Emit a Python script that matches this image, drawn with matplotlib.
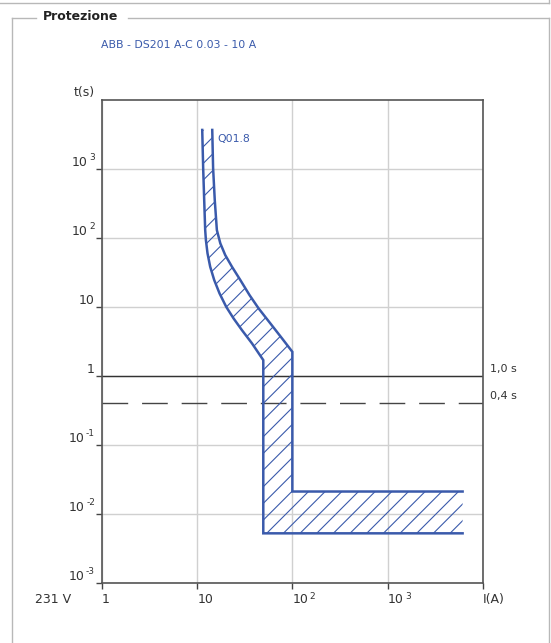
import numpy as np
import matplotlib
matplotlib.use("Agg")
import matplotlib.pyplot as plt
from matplotlib.lines import Line2D
from matplotlib.patches import Polygon

W, H = 551, 643
BLUE = "#3a5aab"

# curve data (I in A, t in s)
i_min = [11.3, 11.56, 11.85, 12.14, 12.35, 12.84, 13.7, 15.1, 17.17, 20.2, 24.1, 29.5, 37.7, 49.5]
t_min = [3680, 1033, 355, 130, 93.2, 59.8, 38.2, 24.5, 15.7, 10.0, 6.81, 4.61, 2.95, 1.69]
i_max = [14.4, 14.7, 15.3, 16.1, 17.5, 19.7, 23.2, 28.4, 35.5, 44.2, 58.7, 77.9, 100]
t_max = [3680, 1033, 355, 130, 83.5, 56.5, 38.2, 24.5, 14.8, 9.5, 5.76, 3.49, 2.23]
t_inst_max = 0.021
t_inst_min = 0.0052
i_end = 6150

x_ticks = [1, 10, 100, 1000, 10000]
x_labels = [("1", ""), ("10", ""), ("10", "2"), ("10", "3"), ("I(A)", "")]
y_ticks = [1e-3, 1e-2, 1e-1, 1, 10, 100, 1000]
y_labels = [("10", "-3"), ("10", "-2"), ("10", "-1"), ("1", ""), ("10", ""), ("10", "2"), ("10", "3")]
ref_lines = [(1.0, "1,0 s"), (0.4, "0,4 s")]

plt.rcParams['font.family'] = ['DejaVu Sans']
plt.rcParams['hatch.linewidth'] = 0.8

fig = plt.figure(figsize=(W / 100, H / 100), dpi=100)


def fx(x):
    return x / W


def fy(y):
    return 1 - y / H


ax = fig.add_axes([fx(102), fy(582.7), fx(482.7) - fx(102), fy(100) - fy(582.7)])
ax.set_xscale("log")
ax.set_yscale("log")
ax.set_xlim(1, 10000)
ax.set_ylim(1e-3, 1e4)

ax.set_xticks(x_ticks)
ax.set_yticks(y_ticks)
ax.minorticks_off()
ax.tick_params(length=4, width=1, color="#444", labelbottom=False, labelleft=False)
ax.grid(True, color="#d0d0d0", lw=1)
ax.set_axisbelow(True)
for s in ax.spines.values():
    s.set_color("#555")
    s.set_linewidth(1.2)

# band
left_x = list(i_min) + [i_min[-1], i_end]
left_y = list(t_min) + [t_inst_min, t_inst_min]
right_x = list(i_max) + [i_max[-1], i_end]
right_y = list(t_max) + [t_inst_max, t_inst_max]
poly = list(zip(left_x, left_y)) + list(zip(right_x, right_y))[::-1]
ax.add_patch(Polygon(poly, closed=True, facecolor="none", edgecolor=BLUE,
                     lw=0, hatch="//", zorder=3))
ax.plot(left_x, left_y, color=BLUE, lw=1.8, zorder=4, solid_joinstyle="miter")
ax.plot(right_x, right_y, color=BLUE, lw=1.8, zorder=4, solid_joinstyle="miter")
ax.text(i_max[0] * 1.12, t_max[0] * 0.75, "Q01.8", color=BLUE, fontsize=7.8,
        va="center", ha="left")

# reference time lines
ax.axhline(ref_lines[0][0], color="#333", lw=1, zorder=2)
ax.axhline(ref_lines[1][0], color="#444", lw=1, dashes=(18.5, 10), zorder=2)
for val, lab in ref_lines:
    ax.annotate(lab, (1, val), xycoords=("axes fraction", "data"),
                xytext=(7, 2), textcoords="offset pixels", fontsize=8,
                ha="left", va="bottom", color="#333")

fig.canvas.draw()
rend = fig.canvas.get_renderer()

# y tick labels: "10" with superscript
for val, (base, sup) in zip(y_ticks, y_labels):
    xoff = -7
    if sup:
        st = ax.annotate(sup, (0, val), xycoords=("axes fraction", "data"),
                         xytext=(xoff, 7), textcoords="offset pixels",
                         fontsize=6.5, ha="right", va="bottom", color="#333")
        xoff -= st.get_window_extent(rend).width + 1.5
    ax.annotate(base, (0, val), xycoords=("axes fraction", "data"),
                xytext=(xoff, 0), textcoords="offset pixels",
                fontsize=9, ha="right", va="bottom", color="#333")

# x tick labels
for val, (base, sup) in zip(x_ticks, x_labels):
    bt = ax.annotate(base, (val, 0), xycoords=("data", "axes fraction"),
                     xytext=(0, -10), textcoords="offset pixels",
                     fontsize=9, ha="left", va="top", color="#333")
    if sup:
        w = bt.get_window_extent(rend).width
        ax.annotate(sup, (val, 0), xycoords=("data", "axes fraction"),
                    xytext=(w + 1.5, -9), textcoords="offset pixels",
                    fontsize=6.5, ha="left", va="top", color="#333")

ax.annotate("231 V", (0, 0), xycoords="axes fraction", xytext=(-67, -10),
            textcoords="offset pixels", fontsize=9, ha="left", va="top", color="#333")
ax.annotate("t(s)", (0, 1), xycoords="axes fraction", xytext=(-7, 1),
            textcoords="offset pixels", fontsize=9, ha="right", va="bottom", color="#333")

# panel / group box
gray = "#b8b8b8"
for xs, ys in [((0, 549), (2.5, 2.5)), ((549, 549), (0, 2.5)),
               ((12, 36), (18, 18)), ((128, 549), (18, 18)),
               ((12, 12), (18, H)), ((549, 549), (18, H))]:
    fig.add_artist(Line2D([fx(v) for v in xs], [fy(v) for v in ys],
                          transform=fig.transFigure, color=gray, lw=1))

fig.text(fx(43), fy(16), "Protezione", fontsize=9, fontweight="bold",
         va="center", ha="left", color="#222")
fig.text(fx(101), fy(44.5), "ABB - DS201 A-C 0.03 - 10 A", fontsize=7.8,
         va="center", ha="left", color=BLUE)

fig.savefig("out.png", dpi=100)
